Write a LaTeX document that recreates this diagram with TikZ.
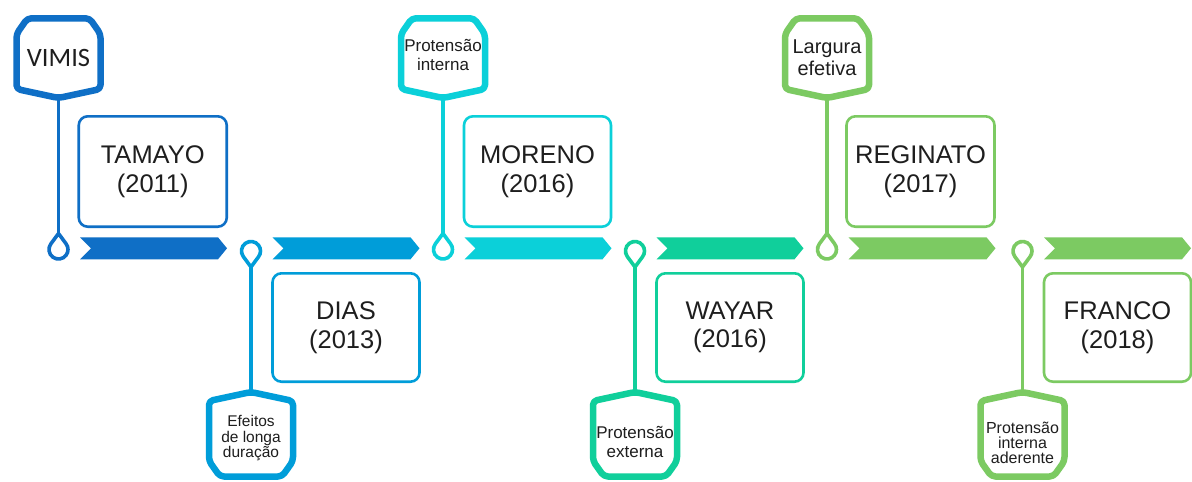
\documentclass[tikz,border=0pt]{standalone}
\usepackage{fontspec}
\setmainfont{Liberation Sans}
\newfontfamily\calibrifont{Carlito}

\definecolor{tlA}{HTML}{0F6FC6}
\definecolor{tlB}{HTML}{009DD9}
\definecolor{tlC}{HTML}{0BD0D9}
\definecolor{tlD}{HTML}{10CF9B}
\definecolor{tlE}{HTML}{7CCA62}
\definecolor{ink}{HTML}{1E1E1E}

\tikzset{
  tagframe/.style={line width=6.5pt, line join=round, rounded corners=4pt, fill=white},
  stemline/.style={line width=3.6pt},
  pinring/.style={line width=3.6pt, line join=miter, fill=white},
  yearbox/.style={draw, line width=2.6pt, rounded corners=9pt, fill=white,
    inner sep=0pt, align=center, text=ink, font=\fontsize{25.5}{28.5}\selectfont},
  taglabel/.style={inner sep=0pt, align=center, text=ink, anchor=north},
}

% tag hanging above the axis, pointing down: #1 = x, #2 = colour
\newcommand\uptag[2]{%
  \draw[tagframe, draw=#2] (#1,98) -- (#1-42,89) -- (#1-42,34) -- (#1-31,18.3)
    -- (#1+31,18.3) -- (#1+42,34) -- (#1+42,89) -- cycle;}
% tag standing below the axis, pointing up
\newcommand\downtag[2]{%
  \draw[tagframe, draw=#2] (#1,392) -- (#1-42,401) -- (#1-42,461) -- (#1-31,476.5)
    -- (#1+31,476.5) -- (#1+42,461) -- (#1+42,401) -- cycle;}
% pin on the axis whose tip points up
\newcommand\pinup[2]{%
  \draw[pinring, draw=#2] (#1,233.5) -- (#1-7.65,243.86)
    arc[start angle=216.4, end angle=-36.4, radius=9.5] -- cycle;}
% pin on the axis whose tip points down
\newcommand\pindown[2]{%
  \draw[pinring, draw=#2] (#1,267) -- (#1-7.65,256.64)
    arc[start angle=143.6, end angle=396.4, radius=9.5] -- cycle;}
% chevron segment of the axis
\newcommand\chevron[2]{%
  \fill[#2] (#1+21.5,237.3) -- (#1+159.5,237.3) -- (#1+168.5,248.3)
    -- (#1+159.5,259.3) -- (#1+21.5,259.3) -- (#1+32.5,248.3) -- cycle;}

\begin{document}
\begin{tikzpicture}[x=1pt,y=-1pt]
\useasboundingbox[fill=white] (0,0) rectangle (1192,482);

% ---------- axis ----------
\chevron{58.5}{tlA}
\chevron{251}{tlB}
\chevron{443}{tlC}
\chevron{635}{tlD}
\chevron{827}{tlE}
\chevron{1022.5}{tlE}

% ---------- stems ----------
\coordinate (tagA) at (58.5,98);    \coordinate (pinA) at (58.5,233.5);
\coordinate (tagB) at (251,392);    \coordinate (pinB) at (251,267);
\coordinate (tagC) at (443,98);     \coordinate (pinC) at (443,233.5);
\coordinate (tagD) at (635,392);    \coordinate (pinD) at (635,267);
\coordinate (tagE) at (827,98);     \coordinate (pinE) at (827,233.5);
\coordinate (tagF) at (1022.5,392); \coordinate (pinF) at (1022.5,267);
\draw[stemline, tlA] (tagA) -- (pinA);
\draw[stemline, tlB] (tagB) -- (pinB);
\draw[stemline, tlC] (tagC) -- (pinC);
\draw[stemline, tlD] (tagD) -- (pinD);
\draw[stemline, tlE] (tagE) -- (pinE);
\draw[stemline, tlE] (tagF) -- (pinF);

% ---------- pins ----------
\pinup{58.5}{tlA}
\pindown{251}{tlB}
\pinup{443}{tlC}
\pindown{635}{tlD}
\pinup{827}{tlE}
\pindown{1022.5}{tlE}

% ---------- tags ----------
\uptag{58.5}{tlA}
\downtag{251}{tlB}
\uptag{443}{tlC}
\downtag{635}{tlD}
\uptag{827}{tlE}
\downtag{1022.5}{tlE}

\node[taglabel, font=\calibrifont\fontsize{26.5}{28}\selectfont] (labA) at (58.5,49.5) {VIMIS};
\node[taglabel, font=\fontsize{15.5}{15.5}\selectfont] (labB) at (251,415.5) {Efeitos\\de longa\\duração};
\node[taglabel, font=\fontsize{17}{19}\selectfont] (labC) at (443,39.5) {Protensão\\interna};
\node[taglabel, font=\fontsize{17}{19}\selectfont] (labD) at (635,426.5) {Protensão\\externa};
\node[taglabel, font=\fontsize{20}{22}\selectfont] (labE) at (827,40) {Largura\\efetiva};
\node[taglabel, font=\fontsize{16}{15}\selectfont] (labF) at (1022.5,421.5) {Protensão\\interna\\aderente};

% ---------- author boxes ----------
\node[yearbox, draw=tlA, minimum width=148pt, minimum height=110.4pt] (boxA) at (152.75,171.5) {TAMAYO\\(2011)};
\node[yearbox, draw=tlB, minimum width=147pt, minimum height=108.4pt] (boxB) at (346,327.5) {DIAS\\(2013)};
\node[yearbox, draw=tlC, minimum width=147pt, minimum height=110.4pt] (boxC) at (537.5,171.5) {MORENO\\(2016)};
\node[yearbox, draw=tlD, minimum width=147pt, minimum height=108.4pt] (boxD) at (730,327.5) {WAYAR\\(2016)};
\node[yearbox, draw=tlE, minimum width=148pt, minimum height=110.4pt] (boxE) at (920.5,171.5) {REGINATO\\(2017)};
\node[yearbox, draw=tlE, minimum width=147pt, minimum height=108.4pt] (boxF) at (1117.5,327.5) {FRANCO\\(2018)};
\end{tikzpicture}
\end{document}
